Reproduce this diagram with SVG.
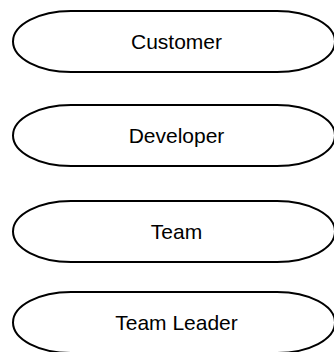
<svg xmlns="http://www.w3.org/2000/svg" width="334" height="352" viewBox="0 0 334 352">
<style>
.shape{fill:#ffffff;stroke:#000000;stroke-width:2}
.label{font-family:"Liberation Sans",Arial,sans-serif;font-size:21px;fill:#000000;text-anchor:middle}
</style>
<rect x="0" y="0" width="334" height="352" fill="#ffffff"/>
<g id="connectors"></g>
<g id="customer">
<rect class="shape" x="13" y="11" width="322" height="61" rx="58" ry="30.5"/>
<text class="label" x="176.5" y="49">Customer</text>
</g>
<g id="developer">
<rect class="shape" x="13" y="105" width="322" height="61" rx="58" ry="30.5"/>
<text class="label" x="176.5" y="143">Developer</text>
</g>
<g id="team">
<rect class="shape" x="13" y="201" width="322" height="61" rx="58" ry="30.5"/>
<text class="label" x="176.5" y="239">Team</text>
</g>
<g id="team-leader">
<rect class="shape" x="13" y="292" width="322" height="61" rx="58" ry="30.5"/>
<text class="label" x="176.5" y="330">Team Leader</text>
</g>
</svg>
